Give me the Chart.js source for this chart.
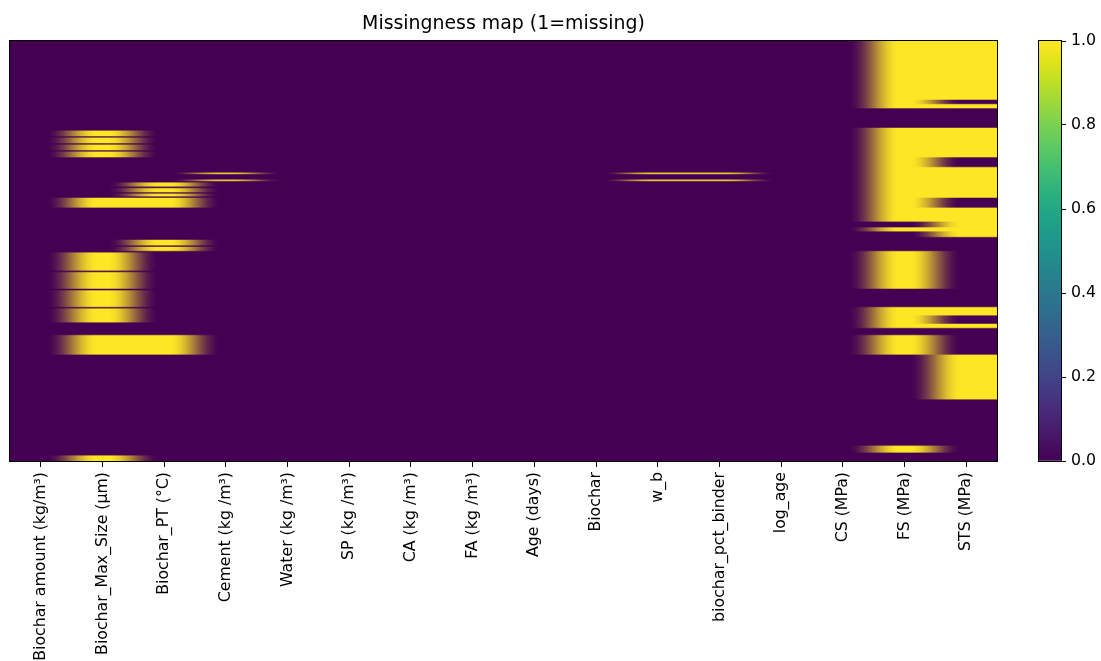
<!DOCTYPE html>
<html>
<head>
<meta charset="utf-8">
<title>Missingness map</title>
<script src="https://cdn.jsdelivr.net/npm/chart.js@4.4.1/dist/chart.umd.min.js"></script>
<style>
  html, body { margin: 0; padding: 0; background: #ffffff; }
  #wrap { position: relative; width: 1101px; height: 661px; overflow: hidden; }
  #heat { position: absolute; left: 0; top: 0; }
  #cbar { position: absolute; left: 1030px; top: 0; }
</style>
</head>
<body>
<div id="wrap">
  <canvas id="heat" width="1030" height="661"></canvas>
  <canvas id="cbar" width="71" height="661"></canvas>
</div>
<script>
// Variables (columns of the dataset), left to right
const variableLabels = [
  'Biochar amount (kg/m³)', 'Biochar_Max_Size (μm)', 'Biochar_PT (°C)', 'Cement (kg /m³)',
  'Water (kg /m³)', 'SP (kg /m³)', 'CA (kg /m³)', 'FA (kg /m³)', 'Age (days)', 'Biochar',
  'w_b', 'biochar_pct_binder', 'log_age', 'CS (MPa)', 'FS (MPa)', 'STS (MPa)'
];

// Number of records (rows, top to bottom)
const rowCount = 300;

// Missing records per variable, as [firstRow, endRow) runs
const maxSizeMissing = [[64, 68], [69, 73], [74, 78], [79, 83], [112, 119], [151, 164], [165, 177], [178, 190], [191, 201], [210, 224], [296, 300]];
const pyrolysisTempMissing = [[101, 104], [105, 108], [109, 111], [112, 119], [142, 146], [147, 150], [210, 224]];
const cementMissing = [[94, 95], [99, 100]];
const waterBinderMissing = [[94, 95], [99, 100]];
const pctBinderMissing = [[94, 95], [99, 100]];
const flexuralMissing = [[0, 48], [62, 129], [133, 136], [150, 177], [190, 205], [210, 224], [289, 294]];
const splitTensileMissing = [[0, 42], [45, 48], [62, 83], [90, 112], [119, 140], [190, 196], [202, 205], [224, 256]];

const missingByVariable = [
  [], maxSizeMissing, pyrolysisTempMissing, cementMissing, [], [], [], [], [], [],
  waterBinderMissing, pctBinderMissing, [], [], flexuralMissing, splitTensileMissing
];

// Colour bar
const colorbarTicks = [0, 0.2, 0.4, 0.6, 0.8, 1.0];
const viridisStops = [
  [0.00, '#440154'], [0.05, '#471365'], [0.10, '#482475'], [0.15, '#463480'],
  [0.20, '#414487'], [0.25, '#3b528b'], [0.30, '#355f8d'], [0.35, '#2f6c8e'],
  [0.40, '#2a788e'], [0.45, '#25848e'], [0.50, '#21918c'], [0.55, '#1e9c89'],
  [0.60, '#22a884'], [0.65, '#2fb47c'], [0.70, '#44bf70'], [0.75, '#5ec962'],
  [0.80, '#7ad151'], [0.85, '#9bd93c'], [0.90, '#bddf26'], [0.95, '#dfe318'],
  [1.00, '#fde725']
];

// One point per missing cell: x = variable index, y = row centre
const missingCells = [];
missingByVariable.forEach((runs, col) => {
  runs.forEach(([a, b]) => {
    for (let r = a; r < b; r++) missingCells.push({ x: col, y: r + 0.5 });
  });
});

const labelFont = { family: 'DejaVu Sans', size: 15.75 };

function hexToRgb(h) {
  const n = parseInt(h.slice(1), 16);
  return [(n >> 16) & 255, (n >> 8) & 255, n & 255];
}

// Paints the 0/1 matrix as an image spanning the scales' extent,
// with soft horizontal transitions between neighbouring variables
const heatmapLayer = {
  id: 'heatmapLayer',
  beforeDatasetsDraw(chart) {
    const { ctx, chartArea, scales: { x, y } } = chart;
    const cells = chart.data.datasets[0].data;
    const cols = variableLabels.length;

    const left = x.getPixelForValue(-0.5);
    const right = x.getPixelForValue(cols - 0.5);
    const top = y.getPixelForValue(0);
    const bottom = y.getPixelForValue(rowCount);
    const W = Math.round(right - left);
    const colW = W / cols;
    const soft = 26; // half-width of a transition, px

    // 0/1 matrix
    const m = Array.from({ length: rowCount }, () => new Float32Array(cols));
    cells.forEach(c => { m[Math.floor(c.y)][c.x] = 1; });

    // per pixel column: two source columns and a blend weight
    const ca = new Int16Array(W), cb = new Int16Array(W), wt = new Float32Array(W);
    for (let px = 0; px < W; px++) {
      const u = (px + 0.5) / colW;
      const b = Math.round(u);
      const d = (u - b) * colW;
      if (b > 0 && b < cols && Math.abs(d) < soft) {
        ca[px] = b - 1; cb[px] = b;
        wt[px] = 0.5 - 0.5 * Math.cos(Math.PI * (d + soft) / (2 * soft));
      } else {
        const c = Math.min(cols - 1, Math.floor(u));
        ca[px] = c; cb[px] = c; wt[px] = 0;
      }
    }

    const lo = hexToRgb(viridisStops[0][1]);
    const hi = hexToRgb(viridisStops[viridisStops.length - 1][1]);
    const img = document.createElement('canvas');
    img.width = W;
    img.height = rowCount;
    const ictx = img.getContext('2d');
    const data = ictx.createImageData(W, rowCount);
    for (let r = 0; r < rowCount; r++) {
      const row = m[r];
      for (let px = 0; px < W; px++) {
        const f = (1 - wt[px]) * row[ca[px]] + wt[px] * row[cb[px]];
        const k = (r * W + px) * 4;
        data.data[k] = lo[0] + (hi[0] - lo[0]) * f;
        data.data[k + 1] = lo[1] + (hi[1] - lo[1]) * f;
        data.data[k + 2] = lo[2] + (hi[2] - lo[2]) * f;
        data.data[k + 3] = 255;
      }
    }
    ictx.putImageData(data, 0, 0);

    ctx.save();
    ctx.beginPath();
    ctx.rect(chartArea.left, chartArea.top, chartArea.width, chartArea.height);
    ctx.clip();
    ctx.imageSmoothingEnabled = true;
    ctx.drawImage(img, left, top, right - left, bottom - top);
    ctx.restore();
  }
};

// Axes frame around the plotting area
const frame = {
  id: 'frame',
  afterDraw(chart) {
    const { ctx, chartArea: a } = chart;
    ctx.save();
    ctx.strokeStyle = '#000000';
    ctx.lineWidth = 1;
    ctx.strokeRect(Math.round(a.left) - 0.5, Math.round(a.top) - 0.5,
      Math.round(a.right) - Math.round(a.left) + 1, Math.round(a.bottom) - Math.round(a.top) + 1);
    ctx.restore();
  }
};

new Chart(document.getElementById('heat'), {
  type: 'scatter',
  data: {
    datasets: [{
      label: 'missing',
      data: missingCells,
      pointRadius: 0,
      pointHoverRadius: 0,
      showLine: false
    }]
  },
  options: {
    responsive: false,
    animation: false,
    events: [],
    devicePixelRatio: 1,
    layout: { padding: { left: 10, right: 33, top: 0, bottom: 0 } },
    plugins: {
      legend: { display: false },
      tooltip: { enabled: false },
      title: {
        display: true,
        text: 'Missingness map (1=missing)',
        color: '#000000',
        font: { family: 'DejaVu Sans', size: 18.9, weight: 'normal' },
        padding: { top: 12.5, bottom: 5.8 }
      }
    },
    scales: {
      x: {
        type: 'linear',
        min: -0.5,
        max: variableLabels.length - 0.5,
        afterBuildTicks(scale) {
          scale.ticks = variableLabels.map((_, i) => ({ value: i }));
        },
        afterFit(scale) { scale.height = 200; },
        ticks: {
          autoSkip: false,
          minRotation: 90,
          maxRotation: 90,
          padding: 5,
          color: '#000000',
          font: labelFont,
          callback: v => variableLabels[v] ?? ''
        },
        grid: { drawOnChartArea: false, drawTicks: true, tickLength: 6, color: '#000000' },
        border: { display: false }
      },
      y: {
        type: 'linear',
        display: false,
        reverse: true,
        min: 0,
        max: rowCount
      }
    }
  },
  plugins: [heatmapLayer, frame]
});

new Chart(document.getElementById('cbar'), {
  type: 'bar',
  data: {
    labels: [''],
    datasets: [{
      data: [[colorbarTicks[0], colorbarTicks[colorbarTicks.length - 1]]],
      barPercentage: 1,
      categoryPercentage: 1,
      borderWidth: 0,
      backgroundColor(context) {
        const area = context.chart.chartArea;
        if (!area) return viridisStops[0][1];
        const ys = context.chart.scales.y;
        const g = context.chart.ctx.createLinearGradient(0, ys.getPixelForValue(0), 0, ys.getPixelForValue(1));
        viridisStops.forEach(([t, c]) => g.addColorStop(t, c));
        return g;
      }
    }]
  },
  options: {
    responsive: false,
    animation: false,
    events: [],
    devicePixelRatio: 1,
    layout: { padding: { left: 9, right: 0, top: 41, bottom: 200 } },
    plugins: {
      legend: { display: false },
      tooltip: { enabled: false }
    },
    scales: {
      x: { display: false },
      y: {
        position: 'right',
        min: 0,
        max: 1,
        afterBuildTicks(scale) {
          scale.ticks = colorbarTicks.map(v => ({ value: v }));
        },
        afterFit(scale) { scale.width = 40; },
        ticks: {
          padding: 5,
          color: '#000000',
          font: labelFont,
          callback: v => Number(v).toFixed(1)
        },
        grid: { drawOnChartArea: false, drawTicks: true, tickLength: 5, color: '#000000' },
        border: { display: false }
      }
    }
  },
  plugins: [frame]
});
</script>
</body>
</html>
